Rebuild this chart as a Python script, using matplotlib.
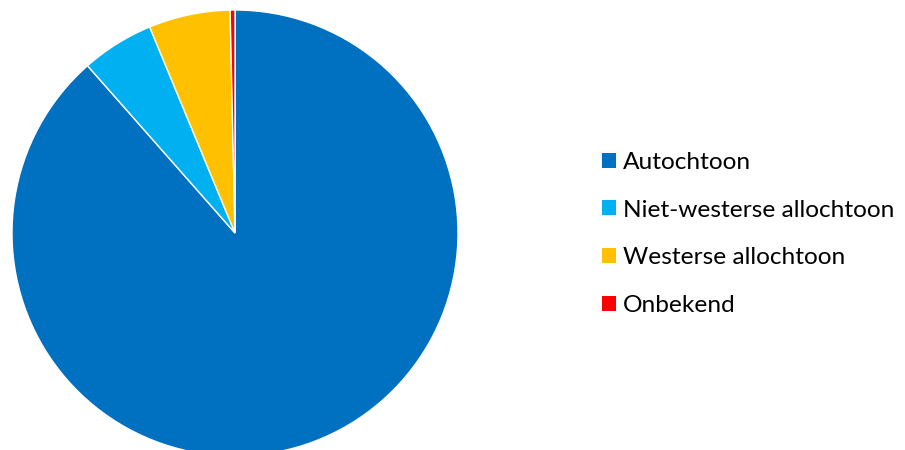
import matplotlib.pyplot as plt
from matplotlib.patches import Patch

labels = ["Autochtoon", "Niet-westerse allochtoon", "Westerse allochtoon", "Onbekend"]
shares = [88.5, 5.25, 5.9, 0.35]
colors = ["#0070C0", "#00B0F0", "#FFC000", "#FF0000"]

plt.rcParams['font.family'] = ['Lato', 'DejaVu Sans']

fig = plt.figure(figsize=(9.05, 4.5), dpi=100)
# pie area: centre (235, 233) px, radius 223 px
ax = fig.add_axes([12 / 905, -6 / 450, 446 / 905, 446 / 450])
ax.pie(shares, colors=colors, startangle=90, counterclock=False, radius=1,
       wedgeprops=dict(edgecolor="white", linewidth=1))
ax.set_xlim(-1, 1)
ax.set_ylim(-1, 1)
ax.set_aspect("auto")
ax.axis("off")

handles = [Patch(facecolor=c, edgecolor="none") for c in colors]
fig.legend(handles, labels, loc="center left", bbox_to_anchor=(602 / 905, 216 / 450),
           frameon=False, fontsize=17.6, handlelength=0.57, handleheight=0.57,
           handletextpad=0.3, labelspacing=1.1, borderpad=0, borderaxespad=0)

fig.savefig("out.png", dpi=100)
